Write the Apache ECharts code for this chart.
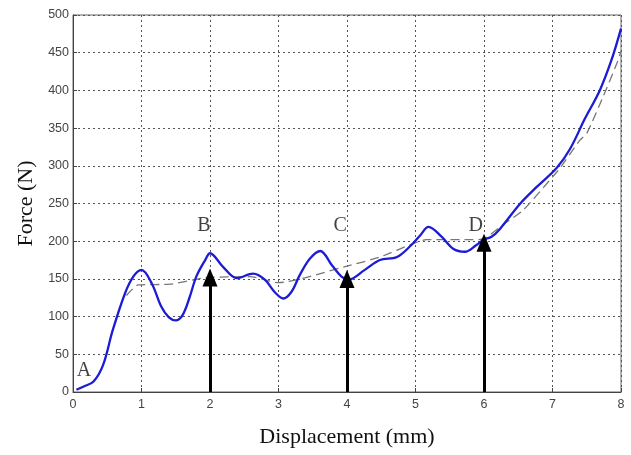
<!DOCTYPE html>
<html>
<head>
<meta charset="utf-8">
<script src="https://cdn.jsdelivr.net/npm/echarts@6/dist/echarts.min.js"></script>
<style>
  html, body { margin: 0; padding: 0; background: #fff; }
  #main { width: 631px; height: 455px; }
</style>
</head>
<body>
<div id="main"></div>
<script>
// measured force-displacement curve (blue)
var dispX = [0.05, 0.15, 0.3, 0.44, 0.58, 0.76, 0.88, 1.0, 1.15, 1.29, 1.4, 1.5, 1.6, 1.7, 1.8, 1.93, 2.0, 2.19, 2.39, 2.63, 2.8, 2.95, 3.07,
             3.19, 3.31, 3.46, 3.61, 3.78, 3.92, 4.02, 4.26, 4.48, 4.73, 4.94, 5.07, 5.19, 5.38, 5.55, 5.72, 5.89, 5.99, 6.11,
             6.23, 6.53, 6.77, 7.06, 7.26, 7.47, 7.69, 7.86, 8.0];
var force = [3, 7, 14, 36, 82, 131, 153, 162, 144, 113, 99, 95, 102, 125, 153, 175, 184, 166, 151, 157, 149, 132, 124,
             133, 155, 177, 187, 168, 153, 149, 162, 175, 179, 195, 208, 219, 206, 190, 186, 195, 202, 206,
             216, 250, 272, 297, 323, 362, 400, 440, 482];

// fitted trend (grey dashed)
var fitX = [0.78, 0.95, 1.42, 1.88, 2.0, 2.58, 3.0, 4.0, 4.48, 4.97, 5.16, 5.84, 5.99, 6.31, 6.57, 6.96, 7.11, 7.4, 7.5, 7.74, 7.94, 8.0];
var fitY = [128, 142, 143, 151, 152, 153, 145, 167, 179, 197, 202, 202, 203, 224, 241, 281, 297, 334, 343, 392, 436, 452];

// arrows and point labels
var arrowX = [2, 4, 6];
var arrowTop = [152, 150, 198];
var pointNames = ['A', 'B', 'C', 'D'];
var pointX = [0.16, 1.91, 3.9, 5.88];
var pointY = [28, 221, 221, 221];

var chart = echarts.init(document.getElementById('main'));

function pairs(xs, ys) {
    return xs.map(function (x, i) { return [x, ys[i]]; });
}

var arrowLines = arrowX.map(function (x, i) {
    return [{ coord: [x, 0] }, { coord: [x, arrowTop[i]] }];
});

var gridLine = { show: true, lineStyle: { color: '#555', type: [2, 3], width: 1 } };
var tickText = { color: '#444', fontFamily: 'Liberation Sans', fontSize: 12.5 };
var serif = 'Liberation Serif';

chart.setOption({
    animation: false,
    backgroundColor: '#fff',
    grid: { left: 73, right: 10, top: 15, bottom: 63, show: true, borderColor: '#666', borderWidth: 1 },
    xAxis: {
        type: 'value', min: 0, max: 8, interval: 1,
        name: 'Displacement (mm)', nameLocation: 'middle', nameGap: 34,
        nameTextStyle: { fontFamily: serif, fontSize: 22, color: '#111' },
        axisLine: { lineStyle: { color: '#444' } },
        axisTick: { inside: true, length: 4, lineStyle: { color: '#444' } },
        axisLabel: Object.assign({ margin: 6 }, tickText),
        splitLine: gridLine
    },
    yAxis: {
        type: 'value', min: 0, max: 500, interval: 50,
        name: 'Force (N)', nameLocation: 'middle', nameGap: 34,
        nameTextStyle: { fontFamily: serif, fontSize: 22, color: '#111' },
        axisLine: { show: true, lineStyle: { color: '#444' } },
        axisTick: { show: true, inside: true, length: 4, lineStyle: { color: '#444' } },
        axisLabel: Object.assign({ margin: 4 }, tickText),
        splitLine: gridLine
    },
    series: [
        {
            type: 'line', data: pairs(fitX, fitY), showSymbol: false, smooth: 0.2,
            lineStyle: { color: '#777', width: 1.3, type: [9, 5] }, z: 2
        },
        {
            type: 'line', data: pairs(dispX, force), showSymbol: false, smooth: 0.35,
            lineStyle: { color: '#1c1cd4', width: 2.3 }, z: 3
        },
        {
            type: 'line', data: [], z: 4,
            markLine: {
                silent: true, symbol: ['none', 'triangle'], symbolSize: [15, 18],
                label: { show: false },
                lineStyle: { color: '#000', width: 3, type: 'solid' },
                data: arrowLines
            }
        },
        {
            type: 'scatter', symbolSize: 0, z: 5,
            data: pointNames.map(function (n, i) { return { name: n, value: [pointX[i], pointY[i]] }; }),
            label: {
                show: true, position: 'inside', formatter: '{b}',
                fontFamily: serif, fontSize: 20, color: '#111'
            }
        }
    ]
});
</script>
</body>
</html>
